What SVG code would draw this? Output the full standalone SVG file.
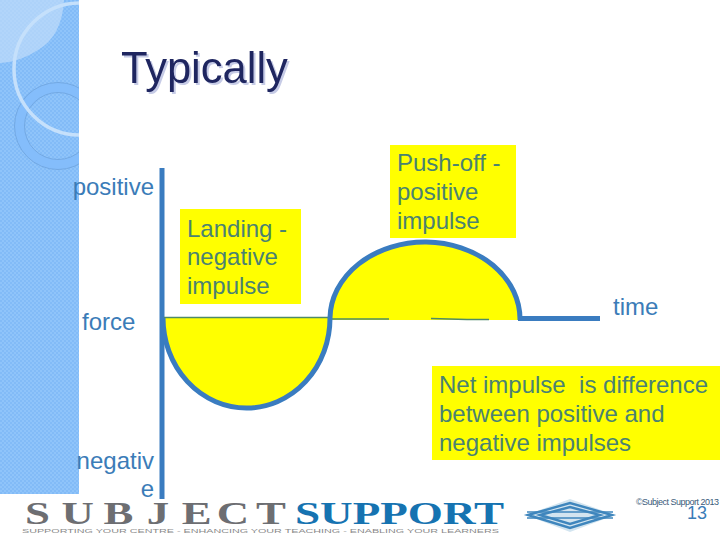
<svg xmlns="http://www.w3.org/2000/svg" width="720" height="540" viewBox="0 0 720 540">
<style>
text{font-family:"Liberation Sans",Arial,sans-serif;white-space:pre}
.lb{font-size:24px;fill:#3b7cb8}
.oy{font-size:24px;fill:#4a8272}
.y{fill:#ffff00}
.cv{fill:#ffff00;stroke:none}
.ln{fill:none;stroke:#3a7cc0;stroke-width:5}
.thin{fill:none;stroke:#4f8a68;stroke-width:1.300}
.sf{font-family:"Liberation Serif",serif;font-weight:700;font-size:32px}
.tg{font-size:6px;fill:#8a8a8a}
.em{fill:none;stroke:#3f86bd;stroke-width:2.4}
</style>
<defs>
<pattern id="ck" width="4" height="4" patternUnits="userSpaceOnUse">
<rect width="4" height="4" fill="#8fc4fa"/>
<rect width="2" height="2" fill="#82bbf7"/>
<rect x="2" y="2" width="2" height="2" fill="#82bbf7"/>
</pattern>
<clipPath id="sb"><rect width="79" height="494"/></clipPath>
</defs>
<rect width="720" height="540" fill="#fff"/>
<g id="sidebar">
<rect width="79" height="494" fill="url(#ck)"/>
<g clip-path="url(#sb)">
<path d="M0 0H64Q62 36 38 50Q20 62 0 63Z" fill="#c4dffa" fill-opacity=".65"/>
<circle cx="58" cy="126" r="43.500" fill="#84bdfb" stroke="#6a9fd8" stroke-width=".7"/>
<circle cx="58" cy="126" r="33.500" fill="url(#ck)" stroke="#6a9fd8" stroke-width=".7"/>
<circle cx="80" cy="69" r="66" fill="none" stroke="#c5e0fb" stroke-width="3.500"/>
</g>
</g>
<g id="title">
<text x="121" y="83" font-size="43.500" fill="#1f2660" style="filter:drop-shadow(2px 2px 0 #c6cbe6)">Typically</text>
</g>
<g id="areas">
<path class="cv" d="M163 318H330A83.500 90 0 0 1 163 318Z"/>
<path class="cv" d="M331 320A95 77 0 0 1 521 320Z"/>
</g>
<g id="connectors">
<path class="ln" d="M162 168V499"/>
<path class="thin" d="M164 317.500H331"/>
<path class="thin" d="M331 319H389M431 318.500 467 319.500H489"/>
<path class="ln" d="M163 318A83.500 90 0 0 0 330 318A95 77 0 0 1 520 320M518 318.500H600"/>
</g>
<g id="axis-labels">
<text class="lb" x="154" y="195" text-anchor="end">positive</text>
<text class="lb" x="82" y="330">force</text>
<text class="lb" x="154" y="469" text-anchor="end">negativ</text>
<text class="lb" x="154" y="497" text-anchor="end">e</text>
<text class="lb" x="613" y="315">time</text>
</g>
<g id="landing">
<rect class="y" x="180" y="209" width="121" height="95"/>
<text class="oy" x="187" y="237">Landing -</text>
<text class="oy" x="187" y="265">negative</text>
<text class="oy" x="187" y="294">impulse</text>
</g>
<g id="pushoff">
<rect class="y" x="390" y="145" width="126" height="93"/>
<text class="oy" x="397" y="171">Push-off -</text>
<text class="oy" x="397" y="200">positive</text>
<text class="oy" x="397" y="229">impulse</text>
</g>
<g id="net">
<rect class="y" x="432" y="366" width="288" height="94"/>
<text class="oy" x="439" y="393">Net impulse  is difference</text>
<text class="oy" x="439" y="422">between positive and</text>
<text class="oy" x="439" y="451">negative impulses</text>
</g>
<g id="logo">
<text class="sf" fill="#6d6e72" transform="translate(25 524) scale(1.4 1)" x="0 26 56 87 112 137 165">SUBJECT</text>
<text class="sf" x="295" y="524" fill="#1673b1" textLength="209" lengthAdjust="spacingAndGlyphs">SUPPORT</text>
<text class="tg" x="22" y="533" textLength="477" lengthAdjust="spacingAndGlyphs">SUPPORTING YOUR CENTRE - ENHANCING YOUR TEACHING - ENABLING YOUR LEARNERS</text>
<g id="emblem">
<path d="M526 515 570 499 615 515 570 532Z" fill="#d3e5f0"/>
<path class="em" d="M528 515 570 503 612 515 570 528Z"/>
<path class="em" d="M540 515 570 507 600 515 570 524Z"/>
<path d="M527 512H613M527 518H613" fill="none" stroke="#3f86bd" stroke-width="1.600"/>
</g>
</g>
<g id="footer">
<text x="636" y="505" font-size="9" fill="#3a5a7a" textLength="83">©Subject Support 2013</text>
<text x="687" y="519" font-size="18" fill="#3b7cb8">13</text>
</g>
</svg>
